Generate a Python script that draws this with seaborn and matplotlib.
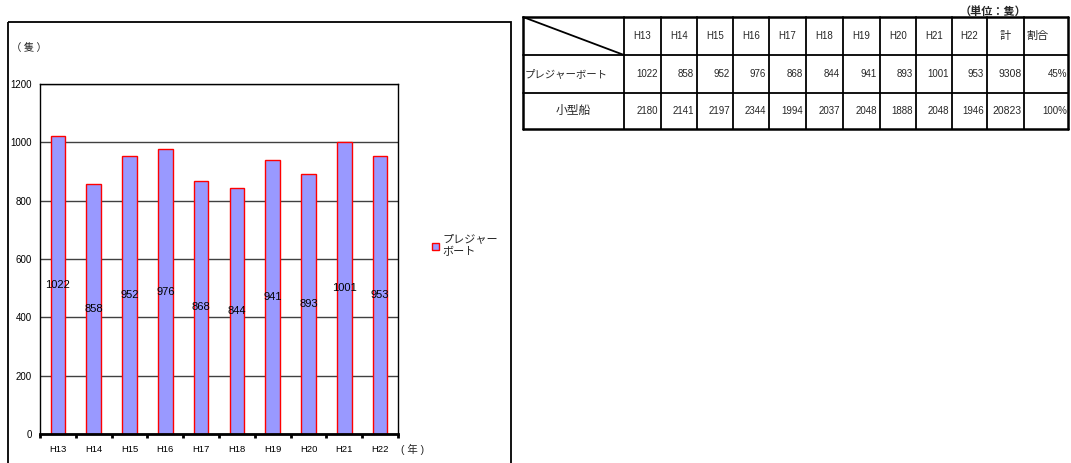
import matplotlib
matplotlib.use("Agg")
import matplotlib.pyplot as plt
import numpy as np
import pandas as pd
import seaborn as sns
from matplotlib.patches import Rectangle, Patch
from matplotlib.lines import Line2D

# --- data -------------------------------------------------------------
years = ["H13", "H14", "H15", "H16", "H17", "H18", "H19", "H20", "H21", "H22"]
pleasure_boats = [1022, 858, 952, 976, 868, 844, 941, 893, 1001, 953]
small_craft = [2180, 2141, 2197, 2344, 1994, 2037, 2048, 1888, 2048, 1946]
row_names = ["プレジャーボート", "小型船"]
row_totals = [9308, 20823]
row_shares = ["45%", "100%"]
legend_label = "プレジャー\nボート"
y_ticks = [0, 200, 400, 600, 800, 1000, 1200]

# --- style ------------------------------------------------------------
sns.set_theme(style="white")
plt.rcParams["font.family"] = ["Liberation Sans", "Noto Sans CJK JP", "DejaVu Sans"]
CJK = ["Noto Sans CJK JP", "DejaVu Sans"]

W, H = 1071, 463
fig = plt.figure(figsize=(W / 100, H / 100), dpi=100)
fig.patch.set_facecolor("white")

# overlay in pixel coordinates for the frame and the table
ov = fig.add_axes([0, 0, 1, 1])
ov.set_xlim(0, W)
ov.set_ylim(H, 0)
ov.axis("off")

# chart frame
ov.add_patch(Rectangle((8, 22), 503, 460, fill=False, lw=1.3, ec="black"))

# --- bar chart --------------------------------------------------------
ax = fig.add_axes([40 / W, 1 - 434 / H, 358 / W, 350 / H])
df = pd.DataFrame({"year": years, "count": pleasure_boats})
sns.barplot(data=df, x="year", y="count", ax=ax, color="#9999FF",
            saturation=1, edgecolor="red", linewidth=1, width=0.41)
ax.set_xlim(-0.5, len(years) - 0.5)
ax.set_ylim(0, 1200)
ax.set_yticks(y_ticks)
ax.set_xlabel("")
ax.set_ylabel("")
ax.set_axisbelow(True)
ax.yaxis.grid(True, color="#404040", lw=1)
ax.xaxis.grid(False)
for s in ax.spines.values():
    s.set_color("black")
    s.set_linewidth(1)
ax.spines["bottom"].set_linewidth(2)
ax.tick_params(axis="y", length=0, pad=6, labelsize=7, labelcolor="black")
ax.tick_params(axis="x", which="major", length=0, pad=8, labelsize=6.8, labelcolor="black")
ax.set_xticks(np.arange(-0.5, len(years), 1), minor=True)
ax.tick_params(axis="x", which="minor", bottom=True, length=3, width=2,
               direction="out", color="black")

for i, v in enumerate(pleasure_boats):
    ax.text(i, v / 2, str(v), ha="center", va="center", fontsize=8, color="black")

fig.text(11 / W, 1 - 48 / H, "（ 隻 ）", fontsize=7.5, ha="left", va="center",
         family=CJK)
fig.text(401 / W, 1 - 449 / H, "( 年 )", fontsize=7.5, ha="left", va="center")

fig.legend(handles=[Patch(facecolor="#9999FF", edgecolor="red", lw=1)],
           labels=[legend_label], loc="center left",
           bbox_to_anchor=(428 / W, 1 - 246 / H), bbox_transform=fig.transFigure,
           frameon=False, fontsize=8, handlelength=0.6, handleheight=0.6,
           handletextpad=0.3, borderaxespad=0, labelspacing=0)

# --- data table -------------------------------------------------------
col_edges = [523, 624, 661, 697, 733, 769, 806, 843, 880, 916, 952, 987, 1024, 1068]
row_edges = [17, 55, 93, 129]
for x in col_edges:
    lw = 1.8 if x in (col_edges[0], col_edges[-1]) else 1.3
    ov.add_line(Line2D([x, x], [row_edges[0], row_edges[-1]], color="black", lw=lw))
for y in row_edges:
    lw = 1.8 if y in (row_edges[0], row_edges[-1]) else 1.3
    ov.add_line(Line2D([col_edges[0], col_edges[-1]], [y, y], color="black", lw=lw))
ov.add_line(Line2D([col_edges[0], col_edges[1]], [row_edges[0], row_edges[1]],
                   color="black", lw=1.3))

def mid(a, b):
    return (a + b) / 2

hy = mid(row_edges[0], row_edges[1])
for j, yr in enumerate(years):
    ov.text(mid(col_edges[j + 1], col_edges[j + 2]), hy, yr, fontsize=7,
            ha="center", va="center")
ov.text(mid(col_edges[11], col_edges[12]), hy, "計", fontsize=8, ha="center", va="center")
ov.text(col_edges[12] + 2, hy, "割合", fontsize=8, ha="left", va="center")

rows = [pleasure_boats, small_craft]
for r, vals in enumerate(rows):
    cy = mid(row_edges[r + 1], row_edges[r + 2])
    if r == 0:
        ov.text(col_edges[0] + 2, cy, row_names[r], fontsize=7.5, ha="left", va="center")
    else:
        ov.text(mid(col_edges[0], col_edges[1]), cy, row_names[r], fontsize=8.5,
                ha="center", va="center")
    for j, v in enumerate(vals):
        ov.text(col_edges[j + 2] - 3, cy, str(v), fontsize=7, ha="right", va="center")
    ov.text(col_edges[12] - 2, cy, str(row_totals[r]), fontsize=7.5, ha="right", va="center")
    ov.text(col_edges[13] - 1, cy, row_shares[r], fontsize=7, ha="right", va="center")

ov.text(960, 11, "（単位：隻）", fontsize=8, ha="left", va="center",
        fontweight="bold", family=CJK)

fig.savefig("out.png", dpi=100)
